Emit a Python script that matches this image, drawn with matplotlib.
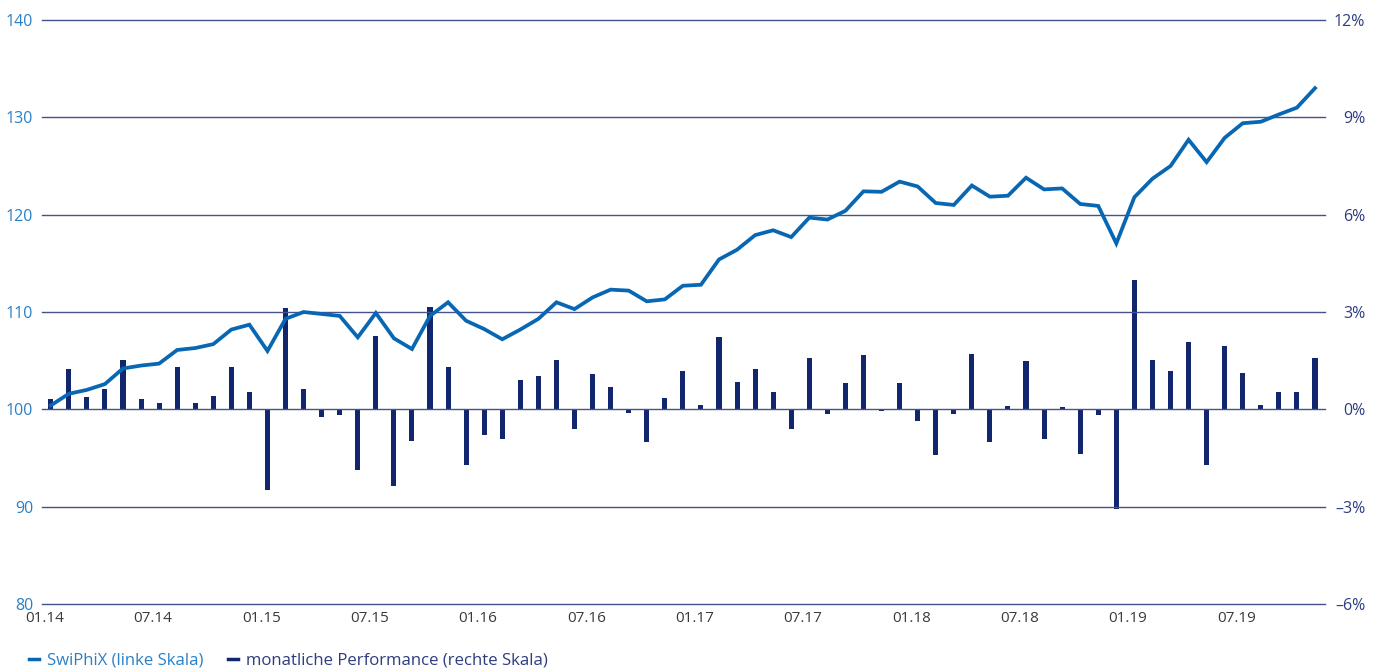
import matplotlib
matplotlib.use("Agg")
import matplotlib.pyplot as plt
from matplotlib.lines import Line2D
import numpy as np

plt.rcParams['font.family'] = ['Open Sans', 'DejaVu Sans']

# month index 0 = 01.14, monthly up to 11.19
swiphix = [100.4, 101.6, 102.0, 102.6, 104.2, 104.5, 104.7, 106.1, 106.3, 106.7,
           108.2, 108.7, 106.0, 109.3, 110.0, 109.8, 109.6, 107.4, 109.9, 107.3,
           106.2, 109.6, 111.0, 109.1, 108.25, 107.2, 108.2, 109.3, 111.0, 110.3,
           111.5, 112.3, 112.2, 111.1, 111.3, 112.7, 112.8, 115.4, 116.4, 117.9,
           118.4, 117.7, 119.7, 119.5, 120.4, 122.4, 122.35, 123.4, 122.9, 121.2,
           121.0, 123.0, 121.85, 121.95, 123.8, 122.6, 122.7, 121.1, 120.9, 117.05,
           121.8, 123.7, 125.0, 127.7, 125.4, 127.9, 129.4, 129.55, 130.3, 131.0,
           133.0]

perf = [0.33, 1.24, 0.39, 0.64, 1.52, 0.31, 0.21, 1.32, 0.19, 0.41,
        1.32, 0.54, -2.50, 3.11, 0.64, -0.24, -0.17, -1.87, 2.27, -2.37,
        -0.99, 3.16, 1.32, -1.73, -0.78, -0.90, 0.90, 1.04, 1.53, -0.60,
        1.09, 0.69, -0.11, -1.00, 0.34, 1.19, 0.14, 2.22, 0.83, 1.25,
        0.54, -0.60, 1.59, -0.15, 0.81, 1.68, -0.05, 0.81, -0.37, -1.41,
        -0.15, 1.70, -1.01, 0.09, 1.49, -0.92, 0.06, -1.37, -0.17, -3.08,
        4.00, 1.52, 1.17, 2.09, -1.73, 1.96, 1.13, 0.14, 0.54, 0.54,
        1.59]

tick_labels = ["01.14", "07.14", "01.15", "07.15", "01.16", "07.16",
               "01.17", "07.17", "01.18", "07.18", "01.19", "07.19"]
left_ticks = [80, 90, 100, 110, 120, 130, 140]
right_ticks = [-6, -3, 0, 3, 6, 9, 12]

LINE_COL = "#0867b3"
BAR_COL = "#12266e"
GRID_COL = "#44528e"
LEFT_TXT = "#2a80c6"
RIGHT_TXT = "#2e3d80"

x = np.arange(len(swiphix))

fig = plt.figure(figsize=(13.81, 6.68), dpi=100)
ax = fig.add_axes([0.0302, 0.0958, 0.9292, 0.8742])
ax2 = ax.twinx()

ax2.bar(x, perf, width=0.28, color=BAR_COL, zorder=2)
ax2.set_ylim(-6, 12)
ax2.set_yticks(right_ticks)
ax2.set_yticklabels([f"{t}%".replace("-", "\u2013") for t in right_ticks])

for y in left_ticks:
    ax.axhline(y, color=GRID_COL, lw=1.0, zorder=1, clip_on=False)
ax.plot(x, swiphix, color=LINE_COL, lw=2.7, solid_joinstyle='miter', zorder=3)
ax.set_ylim(80, 140)
ax.set_yticks(left_ticks)
ax.set_xlim(-0.5, 70.55)
ax.set_xticks([6 * k - 0.35 for k in range(len(tick_labels))])
ax.set_xticklabels(tick_labels)

ax.set_zorder(ax2.get_zorder() + 1)
ax.patch.set_visible(False)

for a in (ax, ax2):
    for s in a.spines.values():
        s.set_visible(False)

ax.tick_params(axis='y', length=0, pad=6, labelsize=11.5, labelcolor=LEFT_TXT)
ax.tick_params(axis='x', length=0, pad=5, labelsize=11, labelcolor="#3a3a3a")
ax2.tick_params(axis='y', length=0, pad=29, labelsize=11.5, labelcolor=RIGHT_TXT)
for lab in ax2.get_yticklabels():
    lab.set_horizontalalignment('right')

handles = [Line2D([0], [0], color=LINE_COL, lw=2.5),
           Line2D([0], [0], color=BAR_COL, lw=2.5)]
fig.legend(handles, ["SwiPhiX (linke Skala)", "monatliche Performance (rechte Skala)"],
           loc='lower left', bbox_to_anchor=(0.01, -0.024), ncol=2, frameon=False,
           handlelength=0.6, handletextpad=0.45, columnspacing=1.5, fontsize=12.1,
           labelcolor=[LEFT_TXT, RIGHT_TXT])

fig.savefig("out.png", dpi=100)
